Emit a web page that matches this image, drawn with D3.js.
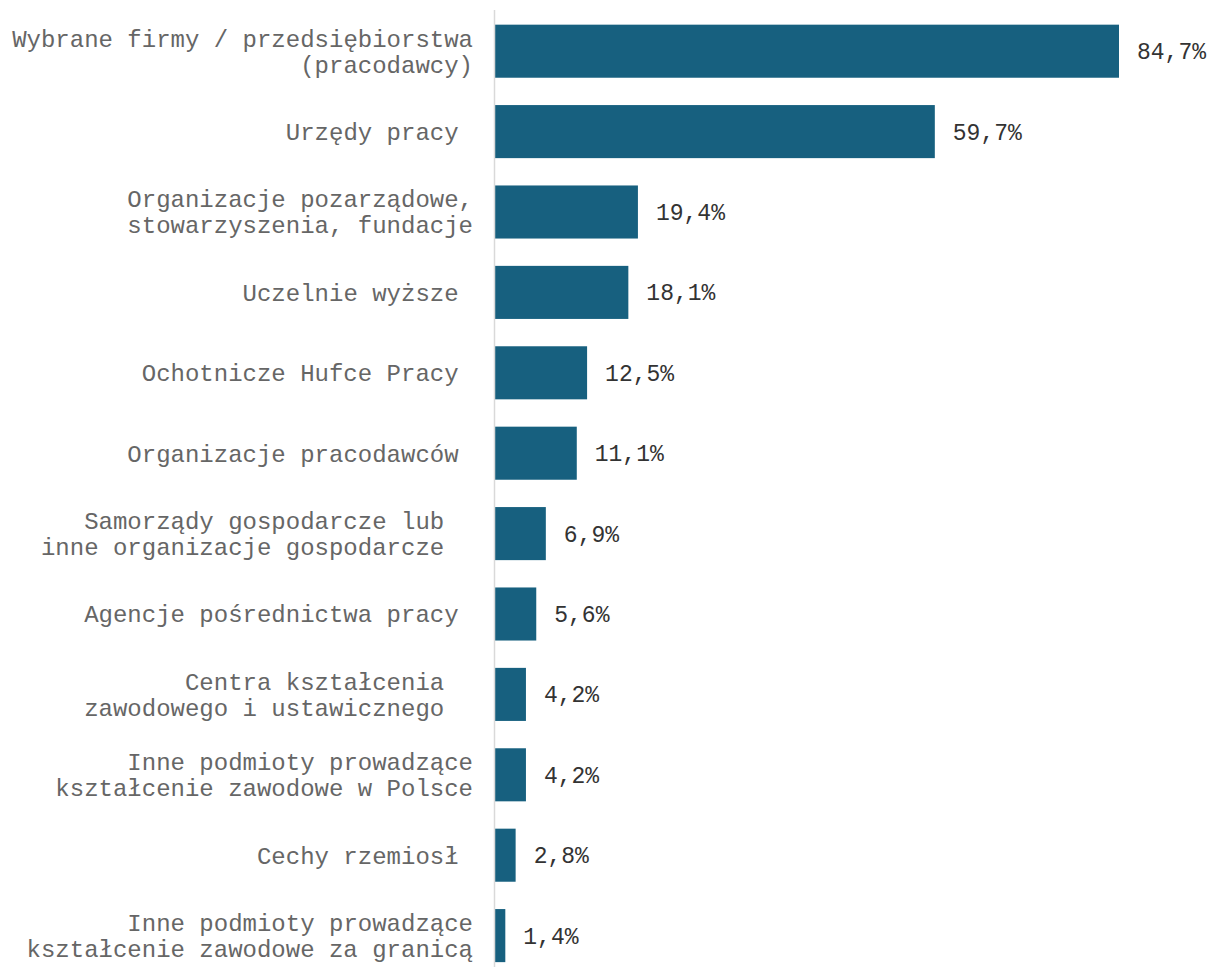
<!DOCTYPE html>
<html>
<head>
<meta charset="utf-8">
<title>Bar chart</title>
<script src="https://cdn.jsdelivr.net/npm/d3@7/dist/d3.min.js"></script>
<style>
  body { margin: 0; background: #fff; }
  text { font-family: "Courier New", "Nimbus Mono PS", "FreeMono", "Liberation Mono", monospace; white-space: pre; }
</style>
</head>
<body>
<div id="chart"></div>
<script>
// categories (line breaks as in the picture, trailing spaces kept)
const categories = [
  ["Wybrane firmy / przedsiębiorstwa", "(pracodawcy)"],
  ["Urzędy pracy "],
  ["Organizacje pozarządowe,", "stowarzyszenia, fundacje"],
  ["Uczelnie wyższe "],
  ["Ochotnicze Hufce Pracy "],
  ["Organizacje pracodawców "],
  ["Samorządy gospodarcze lub  ", "inne organizacje gospodarcze  "],
  ["Agencje pośrednictwa pracy "],
  ["Centra kształcenia  ", "zawodowego i ustawicznego  "],
  ["Inne podmioty prowadzące", "kształcenie zawodowe w Polsce"],
  ["Cechy rzemiosł "],
  ["Inne podmioty prowadzące", "kształcenie zawodowe za granicą"]
];
const values = [84.7, 59.7, 19.4, 18.1, 12.5, 11.1, 6.9, 5.6, 4.2, 4.2, 2.8, 1.4];

const W = 1208, H = 967;
const marginLeft = 495, marginTop = 11;

const svg = d3.select("#chart").append("svg")
  .attr("width", W).attr("height", H);

const x = d3.scaleLinear().domain([0, 84.7]).range([marginLeft, 1119]);
const y = d3.scaleBand().domain(d3.range(values.length))
  .range([marginTop, marginTop + 80.4 * values.length]).paddingInner(0.34).paddingOuter(0.17);

// bars
svg.selectAll("rect.bar")
  .data(values)
  .enter().append("rect")
  .attr("class", "bar")
  .attr("x", x(0))
  .attr("y", (d, i) => y(i))
  .attr("width", d => x(d) - x(0))
  .attr("height", y.bandwidth())
  .attr("fill", "#17607f");

// axis line
svg.append("line")
  .attr("x1", x(0) - 0.5).attr("x2", x(0) - 0.5)
  .attr("y1", 10).attr("y2", H)
  .attr("stroke", "#d9d9d9").attr("stroke-width", 1.5);

// value labels
svg.selectAll("text.val")
  .data(values)
  .enter().append("text")
  .attr("class", "val")
  .attr("x", d => x(d) + 18)
  .attr("y", (d, i) => y(i) + y.bandwidth() / 2)
  .attr("dy", "0.35em")
  .attr("font-size", 23)
  .attr("fill", "#333333")
  .text(d => d.toFixed(1).replace(".", ",") + "%");

// category labels
const lh = 26;
svg.selectAll("text.cat")
  .data(categories)
  .enter().append("text")
  .attr("class", "cat")
  .attr("text-anchor", "end")
  .attr("font-size", 24)
  .attr("fill", "#666666")
  .each(function (lines, i) {
    const cy = y(i) + y.bandwidth() / 2;
    const t = d3.select(this);
    lines.forEach((s, k) => {
      t.append("tspan")
        .attr("x", 473)
        .attr("y", cy + (k - (lines.length - 1) / 2) * lh)
        .attr("dy", "0.35em")
        .text(s);
    });
  });
</script>
</body>
</html>
